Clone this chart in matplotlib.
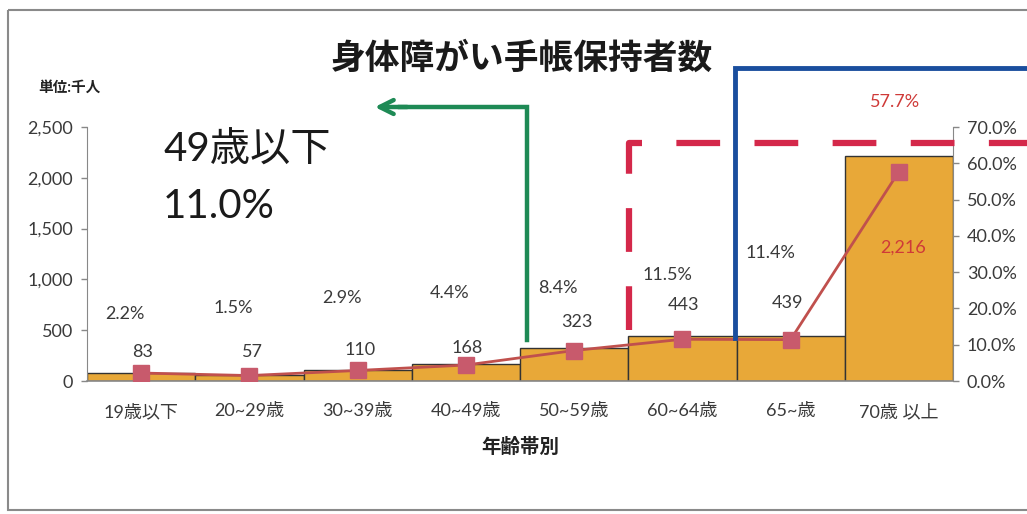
import matplotlib
matplotlib.use('Agg')
import matplotlib.pyplot as plt
from matplotlib.patches import Rectangle
from matplotlib.lines import Line2D

plt.rcParams['font.family'] = ['Lato', 'Noto Sans CJK JP', 'DejaVu Sans']

# ---- data ----
categories = ['19歳以下', '20~29歳', '30~39歳', '40~49歳', '50~59歳', '60~64歳', '65~歳', '70歳 以上']
counts = [83, 57, 110, 168, 323, 443, 439, 2216]          # 千人
shares = [2.2, 1.5, 2.9, 4.4, 8.4, 11.5, 11.4, 57.7]       # %
count_labels = ['83', '57', '110', '168', '323', '443', '439', '2,216']
share_labels = ['2.2%', '1.5%', '2.9%', '4.4%', '8.4%', '11.5%', '11.4%', '57.7%']
left_ticks = [0, 500, 1000, 1500, 2000, 2500]
right_ticks = [0, 10, 20, 30, 40, 50, 60, 70]

# ---- layout (pixel positions of labels in the reference) ----
W, H = 1027, 514
count_label_px = [(143, 352), (252, 352), (360, 350), (467, 348), (577, 322),
                  (683, 305), (787, 303), (903, 248)]
share_label_px = [(125, 314), (233, 308), (342, 298), (450, 293), (558, 288),
                  (667, 275), (770, 253), (895, 102)]

BAR = '#E8A838'
RED = '#C0504D'
MARK = '#C85A6C'
TXT = '#3a3a3a'
HIL = '#CF3A38'

fig = plt.figure(figsize=(W / 100, H / 100), dpi=100)
fig.patch.set_facecolor('white')

ax = fig.add_axes([87 / W, 1 - 381 / H, (953 - 87) / W, (381 - 127) / H])
xs = list(range(len(categories)))
ax.bar(xs, counts, width=1.0, color=BAR, edgecolor='#333333', linewidth=1.0, zorder=2)
ax.set_xlim(-0.5, len(categories) - 0.5)
ax.set_ylim(0, 2500)
ax.set_yticks(left_ticks)
ax.set_yticklabels([f'{v:,}' for v in left_ticks], fontsize=13, color=TXT)
ax.set_xticks(xs)
ax.set_xticklabels(categories, fontsize=13, color=TXT)
ax.tick_params(axis='x', length=0, pad=16)
ax.tick_params(axis='y', length=4, width=1, color='#888888', pad=6)
for s in ['top', 'right']:
    ax.spines[s].set_visible(False)
ax.spines['left'].set_color('#888888')
ax.spines['bottom'].set_color('#888888')
ax.spines['bottom'].set_linewidth(1.2)
ax.set_xlabel('年齢帯別', fontsize=14, fontweight='bold', color='#222222', labelpad=12)

ax2 = ax.twinx()
ax2.plot(xs, shares, color=RED, lw=2, marker='s', ms=11, mfc=MARK, mec=MARK, zorder=3)
ax2.set_ylim(0, 70)
ax2.set_yticks(right_ticks)
ax2.set_yticklabels([f'{v:.1f}%' for v in right_ticks], fontsize=13, color=TXT)
ax2.tick_params(axis='y', length=4, width=1, color='#888888', pad=6)
for s in ['top', 'left', 'bottom']:
    ax2.spines[s].set_visible(False)
ax2.spines['right'].set_color('#888888')

# ---- overlay in pixel coordinates for text and annotation shapes ----
ov = fig.add_axes([0, 0, 1, 1], zorder=10)
ov.set_xlim(0, W)
ov.set_ylim(H, 0)
ov.axis('off')
ov.patch.set_alpha(0)

for i, (px, py) in enumerate(count_label_px):
    col = HIL if i == len(count_labels) - 1 else TXT
    ov.text(px, py, count_labels[i], ha='center', va='center', fontsize=13, color=col)
for i, (px, py) in enumerate(share_label_px):
    col = HIL if i == len(share_labels) - 1 else TXT
    ov.text(px, py, share_labels[i], ha='center', va='center', fontsize=13, color=col)

# frame
ov.add_patch(Rectangle((8, 10), 1100, 500, fill=False, edgecolor='#8a8a8a', lw=1.5))

ov.text(522, 58, '身体障がい手帳保持者数', ha='center', va='center', fontsize=25,
        fontweight='bold', color='#1a1a1a')
ov.text(38, 88, '単位:千人', ha='left', va='center', fontsize=10.5, fontweight='bold', color='#222222')
ov.text(163, 150, '49歳以下', ha='left', va='center', fontsize=29, color='#1a1a1a')
ov.text(163, 207, '11.0%', ha='left', va='center', fontsize=29, color='#1a1a1a')

# green bracket with arrow
GREEN = '#1E8A55'
ov.add_line(Line2D([527, 527, 400], [340, 107, 107], color=GREEN, lw=3.2, solid_joinstyle='miter'))
ov.annotate('', xy=(372, 107), xytext=(410, 107),
            arrowprops=dict(arrowstyle='->', color=GREEN, lw=3.2, mutation_scale=25))

# red dashed bracket
ov.add_line(Line2D([629, 629, 1030], [330, 143, 143], color='#D4284A', lw=4.5,
                   dashes=(7, 5.5), solid_joinstyle='miter'))

# blue bracket
ov.add_line(Line2D([735, 735, 1030], [338, 68, 68], color='#1A4E9E', lw=3.5,
                   solid_joinstyle='miter'))

fig.savefig('out.png', dpi=100)
